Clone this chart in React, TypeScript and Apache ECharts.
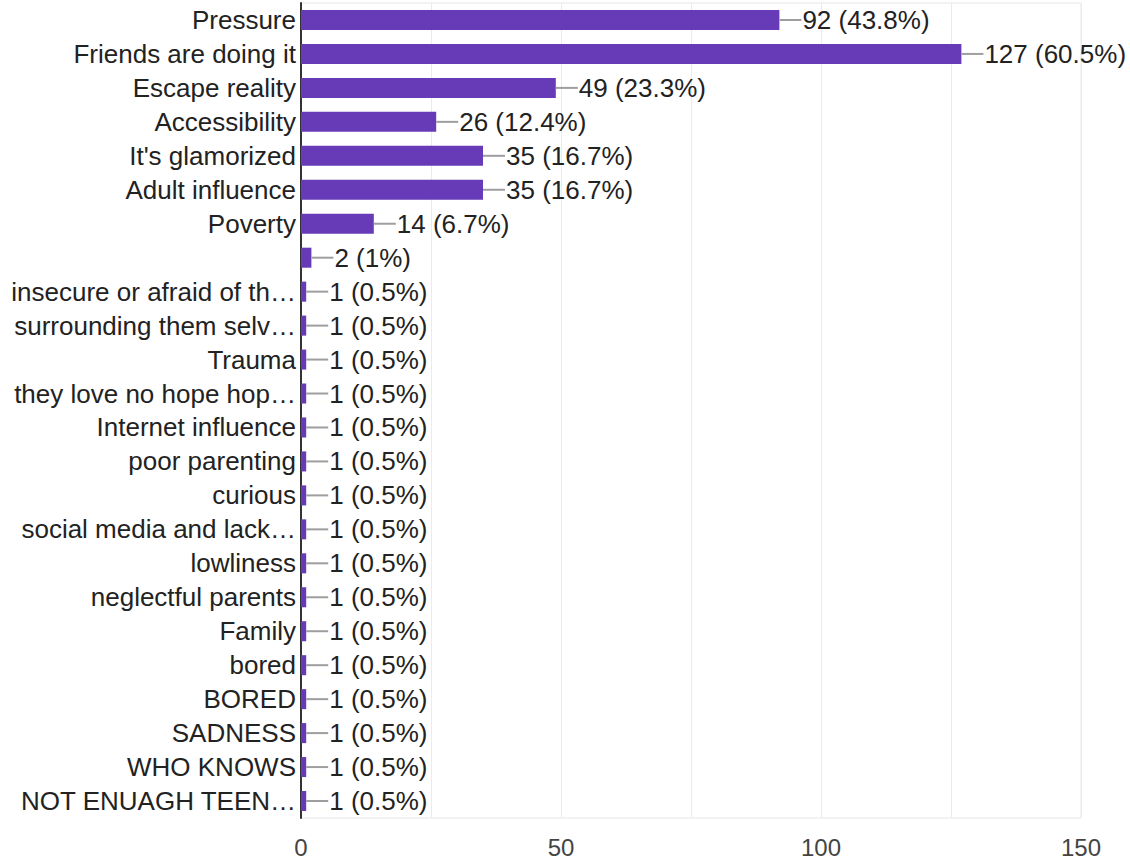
import React, { useEffect, useRef } from "react";
import * as echarts from "echarts";

const categories = [
  "Pressure",
  "Friends are doing it",
  "Escape reality",
  "Accessibility",
  "It's glamorized",
  "Adult influence",
  "Poverty",
  "",
  "insecure or afraid of th…",
  "surrounding them selv…",
  "Trauma",
  "they love no hope hop…",
  "Internet influence",
  "poor parenting",
  "curious",
  "social media and lack…",
  "lowliness",
  "neglectful parents",
  "Family",
  "bored",
  "BORED",
  "SADNESS",
  "WHO KNOWS",
  "NOT ENUAGH TEEN…",
];

const values = [92, 127, 49, 26, 35, 35, 14, 2, 1, 1, 1, 1, 1, 1, 1, 1, 1, 1, 1, 1, 1, 1, 1, 1];
const percents = [
  "43.8%", "60.5%", "23.3%", "12.4%", "16.7%", "16.7%", "6.7%", "1%",
  "0.5%", "0.5%", "0.5%", "0.5%", "0.5%", "0.5%", "0.5%", "0.5%",
  "0.5%", "0.5%", "0.5%", "0.5%", "0.5%", "0.5%", "0.5%", "0.5%",
];
const xTicks = [0, 50, 100, 150];

export default function App() {
  const ref = useRef<HTMLDivElement>(null);
  useEffect(() => {
    document.body.style.margin = "0";
    const chart = echarts.init(ref.current!, undefined, { renderer: "svg" });
    const font = "Arial, 'Liberation Sans', sans-serif";
    chart.setOption({
      animation: false,
      textStyle: { fontFamily: font },
      grid: {
        left: 301,
        right: 49,
        top: 3,
        bottom: 41,
        show: true,
        borderColor: "#e6e6e6",
        borderWidth: 1,
        containLabel: false,
      },
      xAxis: {
        type: "value",
        min: 0,
        max: 150,
        interval: 25,
        axisLine: { show: false },
        axisTick: { show: false },
        splitLine: { show: true, lineStyle: { color: "#ebebeb", width: 1 } },
        axisLabel: {
          color: "#444",
          fontSize: 24,
          fontFamily: font,
          margin: 17,
          formatter: (v: number) => (xTicks.includes(v) ? String(v) : ""),
        },
      },
      yAxis: {
        type: "category",
        data: categories,
        inverse: true,
        axisTick: { show: false },
        axisLine: { show: true, lineStyle: { color: "#333", width: 2 } },
        splitLine: { show: false },
        axisLabel: {
          color: "#222",
          fontSize: 26,
          fontFamily: font,
          margin: 5,
        },
      },
      series: [
        {
          type: "bar",
          data: values,
          barWidth: "59%",
          itemStyle: { color: "#673ab7" },
          label: {
            show: true,
            position: "right",
            distance: 0,
            formatter: (p: any) => `{l|}{t|${p.value} (${percents[p.dataIndex]})}`,
            rich: {
              l: { width: 22, height: 2, backgroundColor: "#9e9e9e", verticalAlign: "middle" },
              t: { fontSize: 26, color: "#222", fontFamily: font, verticalAlign: "middle", padding: [0, 0, 0, 1] },
            },
          },
        },
      ],
    });
    return () => chart.dispose();
  }, []);
  return <div ref={ref} style={{ width: 1130, height: 859 }} />;
}
